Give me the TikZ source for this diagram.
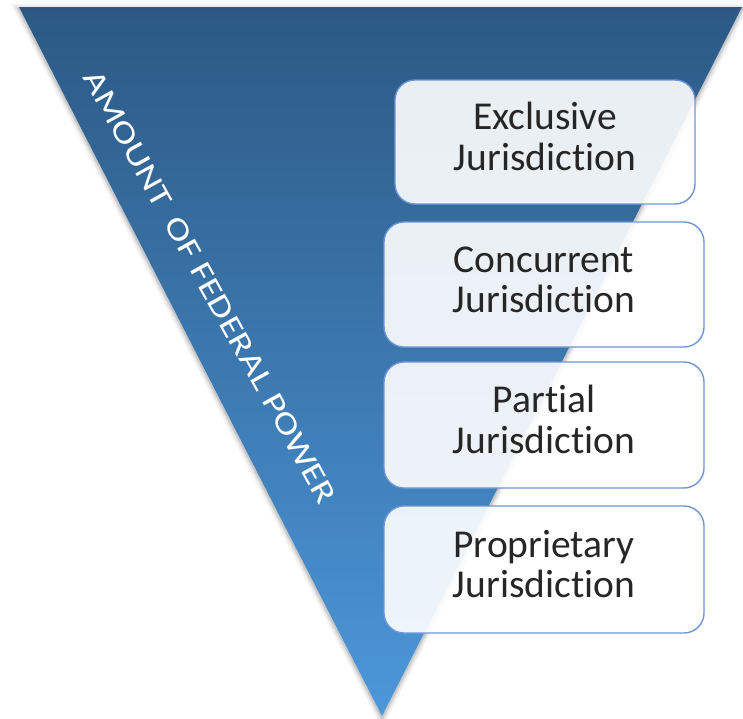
\documentclass[tikz,border=0pt]{standalone}
\usepackage{fontspec}
\setmainfont{Carlito}[RawFeature={-liga,-dlig,-clig}]
\definecolor{tritop}{RGB}{44,89,132}
\definecolor{tribot}{RGB}{76,151,218}
\definecolor{boxedge}{RGB}{110,150,215}
\tikzset{
  jbox/.style={draw=boxedge, line width=1.4pt, fill=white, fill opacity=0.9, text opacity=1,
    rounded corners=20pt, align=center, inner sep=0pt, text=black!85,
    font=\fontsize{39.5}{40.6}\selectfont},
  sidelabel/.style={text=white, font=\fontsize{31}{32}\selectfont, inner sep=0pt}
}
\begin{document}
\begin{tikzpicture}[x=1pt,y=-1pt]
\useasboundingbox (0,0) rectangle (743,718);
% shadow
\foreach \w/\o in {10/0.04,7/0.05,4/0.07,2/0.08}{
  \draw[line width=\w pt, black, opacity=\o, line join=miter] (19,9) -- (742,9) -- (382,718) -- cycle;
}
% triangle
\shade[top color=tritop, bottom color=tribot] (19,7) -- (742,7) -- (382,716) -- cycle;
% side label
\node[sidelabel, rotate=-61] (power) at (210,287) {\scalebox{1.26}[1]{AMOUNT\, OF FEDERAL POWER}};
% boxes
\node[jbox, minimum width=300pt, minimum height=124pt] (excl) at (545,142) {\begin{tabular}{@{}c@{}}Exclusive\\Jurisdiction\end{tabular}};
\node[jbox, minimum width=320pt, minimum height=125pt] (conc) at (544,284.5) {\begin{tabular}{@{}c@{}}Concurrent\\Jurisdiction\end{tabular}};
\node[jbox, minimum width=320pt, minimum height=126pt] (part) at (544,425) {\begin{tabular}{@{}c@{}}Partial\\Jurisdiction\end{tabular}};
\node[jbox, minimum width=320pt, minimum height=127pt] (prop) at (544,569.5) {\begin{tabular}{@{}c@{}}Proprietary\\Jurisdiction\end{tabular}};
\end{tikzpicture}
\end{document}
